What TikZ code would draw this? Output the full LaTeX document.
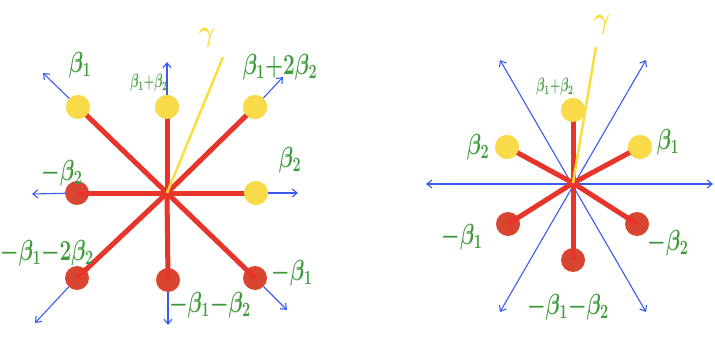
\documentclass[tikz,border=0pt]{standalone}
\usepackage{amsmath}
\usetikzlibrary{arrows.meta, positioning, calc}
\definecolor{rootred}{RGB}{232,53,43}
\definecolor{dotred}{RGB}{216,69,48}
\definecolor{dotyellow}{RGB}{249,218,73}
\definecolor{gammayellow}{RGB}{250,222,60}
\definecolor{labelgreen}{RGB}{62,155,58}
\definecolor{wallblue}{RGB}{59,91,239}
\newcommand{\tallmath}[2][1.4]{\scalebox{1}[#1]{\boldmath$#2$}}
\tikzset{
  posroot/.style={circle, fill=dotyellow, minimum size=24pt, inner sep=0pt},
  negroot/.style={circle, fill=dotred, minimum size=24pt, inner sep=0pt},
  rootlabel/.style={text=labelgreen, font=\fontsize{21}{23}\selectfont, inner sep=0pt},
  smalllabel/.style={text=labelgreen, font=\fontsize{12}{14}\selectfont, inner sep=0pt},
  gammalabel/.style={text=gammayellow, font=\fontsize{28}{30}\selectfont, inner sep=0pt},
  rootline/.style={draw=rootred, line width=5pt},
  coroot/.style={draw=wallblue, line width=1.1pt, -{Straight Barb[length=5pt, width=8pt]}},
  wall/.style={draw=wallblue, line width=1.1pt, {Straight Barb[length=5pt, width=8pt]}-{Straight Barb[length=5pt, width=8pt]}},
  gammaline/.style={draw=gammayellow, line width=2.5pt},
}
\begin{document}
\begin{tikzpicture}[x=1pt, y=-1pt]
\useasboundingbox (0,0) rectangle (715,337);
% left diagram: B2
\coordinate (O) at (167,193);
\node[posroot] (b1)    at (78,107)  {};
\node[posroot] (b12)   at (167,107) {};
\node[posroot] (b122)  at (255,107) {};
\node[posroot] (b2)    at (256,193) {};
\node[negroot] (mb2)   at (77,193)  {};
\node[negroot] (mb122) at (77,278)  {};
\node[negroot] (mb12)  at (168,280) {};
\node[negroot] (mb1)   at (255,278) {};
\coordinate (e1)    at (43,73);
\coordinate (e12)   at (167,62);
\coordinate (e122)  at (283,77);
\coordinate (e2)    at (298,193);
\coordinate (em2)   at (32,194);
\coordinate (em122) at (35,323);
\coordinate (em12)  at (168,325);
\coordinate (em1)   at (287,310);
\foreach \r in {1,12,122,2}
  \draw[coroot] (b\r) -- (e\r);
\foreach \r in {2,122,12,1}
  \draw[coroot] (mb\r) -- (em\r);
\foreach \r in {1,12,122,2}
  \draw[rootline] (O) -- (mb\r.center);
\foreach \r in {1,12,122,2}
  \draw[rootline] (O) -- (b\r.center);
\foreach \r in {1,12,122,2}
  \node[posroot] at (b\r) {};
\coordinate (g) at (223,57);
\draw[gammaline] (O) -- (g);
\node[gammalabel] (gl) at (207,38) {\tallmath[1.2]{\gamma}};
\node[rootlabel]  (l1)    at (80,65)   {\tallmath{\beta_1}};
\node[smalllabel] (l12)   at (149,83)  {\tallmath[1.6]{\beta_1{+}\beta_2}};
\node[rootlabel]  (l122)  at (280,67)  {\tallmath{\beta_1{+}2\beta_2}};
\node[rootlabel]  (l2)    at (290,160) {\tallmath{\beta_2}};
\node[rootlabel]  (lm2)   at (62,173)  {\tallmath{-\beta_2}};
\node[rootlabel]  (lm122) at (47,253)  {\tallmath{-\beta_1{-}2\beta_2}};
\node[rootlabel]  (lm12)  at (210,305) {\tallmath{-\beta_1{-}\beta_2}};
\node[rootlabel]  (lm1)   at (292,273) {\tallmath{-\beta_1}};
% right diagram: A2
\coordinate (P) at (573,183);
\coordinate (w0a) at (426,184);
\coordinate (w0b) at (713,184);
\coordinate (w1a) at (500,60);
\coordinate (w1b) at (646,312);
\coordinate (w2a) at (646,60);
\coordinate (w2b) at (500,312);
\draw[wall] (w0a) -- (w0b);
\draw[wall] (w1a) -- (w1b);
\draw[wall] (w2a) -- (w2b);
\node[posroot] (p12) at (573,110) {};
\node[posroot] (p2)  at (507,147) {};
\node[posroot] (p1)  at (640,147) {};
\node[negroot] (m1)  at (508,224) {};
\node[negroot] (m2)  at (637,224) {};
\node[negroot] (m12) at (573,260) {};
\foreach \r in {1,2,12}
  \draw[rootline] (P) -- (m\r.center);
\foreach \r in {1,2,12}
  \draw[rootline] (P) -- (p\r.center);
\foreach \r in {1,2,12}
  \node[posroot] at (p\r) {};
\coordinate (h) at (596,47);
\draw[gammaline] (P) -- (h);
\node[gammalabel] (hl) at (602,25) {\tallmath[1.2]{\gamma}};
\node[smalllabel] (k12)  at (555,87)  {\tallmath[1.6]{\beta_1{+}\beta_2}};
\node[rootlabel]  (k2)   at (478,147) {\tallmath{\beta_2}};
\node[rootlabel]  (k1)   at (668,142) {\tallmath{\beta_1}};
\node[rootlabel]  (km1)  at (462,237) {\tallmath{-\beta_1}};
\node[rootlabel]  (km2)  at (668,243) {\tallmath{-\beta_2}};
\node[rootlabel]  (km12) at (568,307) {\tallmath{-\beta_1{-}\beta_2}};
\end{tikzpicture}
\end{document}
